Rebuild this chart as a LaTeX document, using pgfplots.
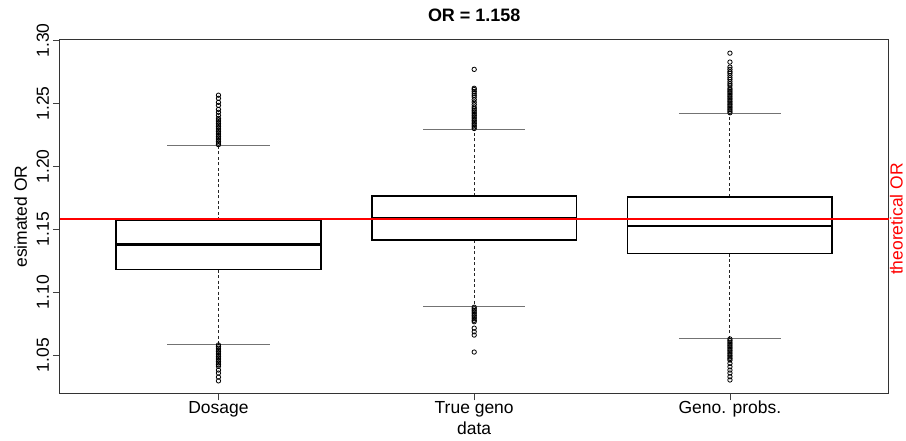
\documentclass[border=0pt]{standalone}
\usepackage{fontspec}
\setmainfont{Liberation Sans}
\usepackage{xcolor}
\usepackage{pgfplots}
\pgfplotsset{compat=1.18}
\usepgfplotslibrary{statistics}
\definecolor{thred}{RGB}{255,0,0}
\begin{document}
\begin{tikzpicture}[font=\fontsize{17.5}{20}\selectfont]
\begin{axis}[
  scale only axis, width=830pt, height=354pt,
  xmin=0.38, xmax=3.62, ymin=1.0196, ymax=1.3004,
  clip=false,
  axis line style={black!80, line width=1pt},
  tick pos=left, tick align=outside,
  major tick length=7pt,
  every tick/.style={black!75, line width=0.8pt},
  xtick={1,2,3}, xticklabels={Dosage,True geno,Geno. probs.},
  ytick={1.05,1.10,1.15,1.20,1.25,1.30},
  yticklabels={1.05,1.10,1.15,1.20,1.25,1.30},
  tick label style={font=\fontsize{17.5}{20}\selectfont},
  xticklabel style={anchor=base}, xticklabel shift=13pt,
  yticklabel style={rotate=90, anchor=base}, yticklabel shift=4pt,
  label style={font=\fontsize{17.5}{20}\selectfont},
  xlabel={data},
  xlabel style={at={(axis description cs:0.5,-0.1178)}, anchor=base},
  ylabel={esimated OR},
  ylabel style={at={(axis description cs:-0.0398,0.5)}, anchor=base, rotate=0},
  title={OR = 1.158},
  title style={at={(axis description cs:0.5,1.034)}, anchor=base, font=\bfseries\fontsize{18}{21}\selectfont},
  boxplot/draw direction=y,
  boxplot/box extend=0.8,
  boxplot/whisker extend=0.4,
  boxplot/every box/.style={line width=1.5pt},
  boxplot/every median/.style={line width=2.6pt},
  boxplot/draw/lower whisker/.code={%
    \draw[black!85, line width=0.9pt, dash pattern=on 3pt off 2.5pt]
      (boxplot box cs:\pgfplotsboxplotvalue{lower quartile},0.5) --
      (boxplot box cs:\pgfplotsboxplotvalue{lower whisker},0.5);
    \draw[black!55, line width=1.1pt]
      (boxplot whisker cs:\pgfplotsboxplotvalue{lower whisker},0) --
      (boxplot whisker cs:\pgfplotsboxplotvalue{lower whisker},1);
  },
  boxplot/draw/upper whisker/.code={%
    \draw[black!85, line width=0.9pt, dash pattern=on 3pt off 2.5pt]
      (boxplot box cs:\pgfplotsboxplotvalue{upper quartile},0.5) --
      (boxplot box cs:\pgfplotsboxplotvalue{upper whisker},0.5);
    \draw[black!55, line width=1.1pt]
      (boxplot whisker cs:\pgfplotsboxplotvalue{upper whisker},0) --
      (boxplot whisker cs:\pgfplotsboxplotvalue{upper whisker},1);
  },
]
% Dosage
\addplot[black, mark=o, mark size=2.2pt, mark options={line width=0.8pt, solid},
  boxplot prepared={draw position=1, lower whisker=1.0587, lower quartile=1.1178,
  median=1.1378, upper quartile=1.1571, upper whisker=1.2167}]
  table[row sep=\\, y index=0] {
  v\\ 1.2172\\ 1.2185\\ 1.2198\\ 1.2211\\ 1.2224\\ 1.2237\\ 1.2250\\ 1.2263\\
  1.2276\\ 1.2289\\ 1.2302\\ 1.2315\\ 1.2328\\ 1.2341\\ 1.2354\\ 1.2367\\
  1.2381\\ 1.2405\\ 1.2429\\ 1.2452\\ 1.2484\\ 1.2508\\ 1.2540\\ 1.2565\\
  1.0580\\ 1.0567\\ 1.0554\\ 1.0541\\ 1.0528\\ 1.0515\\ 1.0502\\ 1.0489\\
  1.0476\\ 1.0463\\ 1.0450\\ 1.0437\\ 1.0424\\ 1.0411\\ 1.0381\\ 1.0357\\
  1.0325\\ 1.0295\\
  };
% True geno
\addplot[black, mark=o, mark size=2.2pt, mark options={line width=0.8pt, solid},
  boxplot prepared={draw position=2, lower whisker=1.0886, lower quartile=1.1413,
  median=1.1583, upper quartile=1.1762, upper whisker=1.2292}]
  table[row sep=\\, y index=0] {
  v\\ 1.2300\\ 1.2313\\ 1.2326\\ 1.2339\\ 1.2352\\ 1.2365\\ 1.2378\\ 1.2391\\
  1.2404\\ 1.2417\\ 1.2430\\ 1.2443\\ 1.2456\\ 1.2470\\ 1.2490\\ 1.2510\\
  1.2530\\ 1.2550\\ 1.2565\\ 1.2580\\ 1.2595\\ 1.2610\\ 1.2620\\ 1.2770\\
  1.0880\\ 1.0867\\ 1.0854\\ 1.0841\\ 1.0828\\ 1.0815\\ 1.0802\\ 1.0789\\
  1.0776\\ 1.0765\\ 1.0714\\ 1.0685\\ 1.0659\\ 1.0524\\
  };
% Geno. probs.
\addplot[black, mark=o, mark size=2.2pt, mark options={line width=0.8pt, solid},
  boxplot prepared={draw position=3, lower whisker=1.0633, lower quartile=1.1307,
  median=1.1527, upper quartile=1.1757, upper whisker=1.2419}]
  table[row sep=\\, y index=0] {
  v\\ 1.2425\\ 1.2438\\ 1.2451\\ 1.2464\\ 1.2477\\ 1.2490\\ 1.2503\\ 1.2516\\
  1.2529\\ 1.2542\\ 1.2555\\ 1.2568\\ 1.2581\\ 1.2594\\ 1.2607\\ 1.2620\\
  1.2640\\ 1.2655\\ 1.2672\\ 1.2690\\ 1.2704\\ 1.2722\\ 1.2740\\ 1.2752\\
  1.2770\\ 1.2788\\ 1.2828\\ 1.2899\\
  1.0628\\ 1.0615\\ 1.0602\\ 1.0589\\ 1.0576\\ 1.0563\\ 1.0550\\ 1.0537\\
  1.0524\\ 1.0511\\ 1.0498\\ 1.0485\\ 1.0472\\ 1.0460\\ 1.0434\\ 1.0407\\
  1.0381\\ 1.0357\\ 1.0328\\ 1.0302\\
  };
% theoretical OR
\addplot[color=thred, line width=1.3pt, mark=none]
  coordinates {(0.38,1.158) (3.62,1.158)};
\node[text=thred, rotate=90, anchor=base, font=\fontsize{17.5}{20}\selectfont]
  at (axis description cs:1.0169,0.4929) {theoretical OR};
\end{axis}
\path (current axis.south west) ++(-60pt,-47pt) rectangle ++(906pt,441pt);
\end{tikzpicture}
\end{document}
